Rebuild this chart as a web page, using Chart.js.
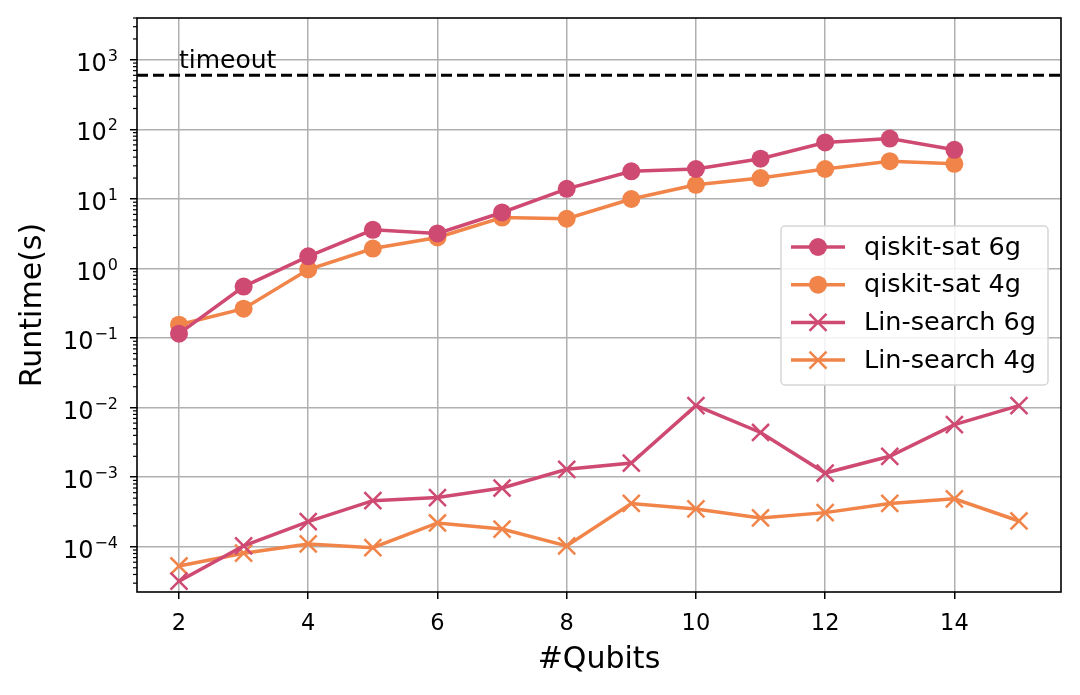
<!DOCTYPE html>
<html>
<head>
<meta charset="utf-8">
<script src="https://cdn.jsdelivr.net/npm/chart.js@4.4.1/dist/chart.umd.min.js"></script>
<style>
  html, body { margin: 0; padding: 0; background: #fff; }
  #wrap { width: 1080px; height: 695px; position: relative; }
</style>
</head>
<body>
<div id="wrap"><canvas id="chart"></canvas></div>
<script>
const qubits = [2, 3, 4, 5, 6, 7, 8, 9, 10, 11, 12, 13, 14, 15];

const qiskitSat6g = [0.116, 0.55, 1.5, 3.6, 3.2, 6.4, 14, 25, 27, 38, 65, 74, 51];
const qiskitSat4g = [0.156, 0.265, 0.97, 1.94, 2.8, 5.4, 5.2, 10, 16, 20, 27, 35, 32];
const linSearch6g = [3.2e-5, 1.03e-4, 2.3e-4, 4.6e-4, 5.1e-4, 7e-4, 1.3e-3, 1.6e-3, 0.0107, 0.0044, 1.15e-3, 2.0e-3, 5.7e-3, 0.0107];
const linSearch4g = [5.3e-5, 8.1e-5, 1.1e-4, 9.7e-5, 2.2e-4, 1.8e-4, 1.03e-4, 4.2e-4, 3.5e-4, 2.6e-4, 3.1e-4, 4.2e-4, 4.9e-4, 2.35e-4];

const timeoutValue = 600;
const xTicks = [2, 4, 6, 8, 10, 12, 14];
const yTicks = [1e-4, 1e-3, 1e-2, 1e-1, 1, 10, 100, 1000];

const PINK = "#cf4a72";
const ORANGE = "#f08449";
const FONT = "'DejaVu Sans', sans-serif";

const pts = (ys) => ys.map((y, i) => ({ x: qubits[i], y }));

const extras = {
  id: "extras",
  beforeDatasetsDraw(chart) {
    const { ctx, chartArea: a, scales } = chart;
    const y = scales.y.getPixelForValue(timeoutValue);
    ctx.save();
    ctx.strokeStyle = "#000";
    ctx.lineWidth = 3;
    ctx.setLineDash([11, 5]);
    ctx.beginPath();
    ctx.moveTo(a.left, y);
    ctx.lineTo(a.right, y);
    ctx.stroke();
    ctx.setLineDash([]);
    ctx.fillStyle = "#000";
    ctx.font = "25px " + FONT;
    ctx.textBaseline = "alphabetic";
    ctx.fillText("timeout", scales.x.getPixelForValue(2), y - 7);
    ctx.restore();
  },
  afterDraw(chart) {
    const { ctx, chartArea: a, scales } = chart;
    ctx.save();
    // minor ticks on the log axis
    ctx.strokeStyle = "#000";
    ctx.lineWidth = 1.2;
    for (let e = -5; e <= 3; e++) {
      for (let m = 2; m <= 9; m++) {
        const v = m * Math.pow(10, e);
        if (v < scales.y.min || v > scales.y.max) continue;
        const py = scales.y.getPixelForValue(v);
        ctx.beginPath();
        ctx.moveTo(a.left - 4, py);
        ctx.lineTo(a.left, py);
        ctx.stroke();
      }
    }
    // spines
    ctx.lineWidth = 1.6;
    ctx.strokeRect(a.left, a.top, a.right - a.left, a.bottom - a.top);

    // y tick labels: 10 with raised exponent
    ctx.fillStyle = "#000";
    ctx.textAlign = "right";
    ctx.textBaseline = "alphabetic";
    yTicks.forEach((v) => {
      const py = scales.y.getPixelForValue(v);
      const exp = String(Math.round(Math.log10(v))).replace("-", "\u2212");
      ctx.font = "16px " + FONT;
      const ew = ctx.measureText(exp).width;
      ctx.fillText(exp, a.left - 19, py + 1);
      ctx.font = "24px " + FONT;
      ctx.fillText("10", a.left - 19 - ew - 1, py + 11);
    });

    // x tick labels
    ctx.textAlign = "center";
    ctx.font = "22.5px " + FONT;
    xTicks.forEach((v) => {
      ctx.fillText(String(v), scales.x.getPixelForValue(v), a.bottom + 38);
    });

    // axis titles
    ctx.textBaseline = "middle";
    ctx.font = "30px " + FONT;
    ctx.fillText("#Qubits", (a.left + a.right) / 2, 660);
    ctx.translate(33, (a.top + a.bottom) / 2);
    ctx.rotate(-Math.PI / 2);
    ctx.fillText("Runtime(s)", 0, 0);
    ctx.restore();

    // legend inside the plot
    const lx = 781, ly = 226, lw = 267, lh = 159;
    ctx.save();
    ctx.fillStyle = "rgba(255,255,255,0.85)";
    ctx.strokeStyle = "#d6d6d6";
    ctx.lineWidth = 1.5;
    ctx.beginPath();
    ctx.roundRect(lx, ly, lw, lh, 4);
    ctx.fill();
    ctx.stroke();
    ctx.font = "25.5px " + FONT;
    ctx.textBaseline = "middle";
    chart.data.datasets.forEach((ds, i) => {
      const cy = ly + 21 + i * 37.7;
      ctx.strokeStyle = ds.borderColor;
      ctx.lineWidth = 3.5;
      ctx.beginPath();
      ctx.moveTo(791, cy);
      ctx.lineTo(845, cy);
      ctx.stroke();
      if (ds.pointStyle === "circle") {
        ctx.fillStyle = ds.borderColor;
        ctx.beginPath();
        ctx.arc(818, cy, 9, 0, Math.PI * 2);
        ctx.fill();
      } else {
        ctx.lineWidth = 2.5;
        const r = 8.5;
        ctx.beginPath();
        ctx.moveTo(818 - r, cy - r); ctx.lineTo(818 + r, cy + r);
        ctx.moveTo(818 - r, cy + r); ctx.lineTo(818 + r, cy - r);
        ctx.stroke();
      }
      ctx.fillStyle = "#000";
      ctx.fillText(ds.label, 864, cy + 1);
    });
    ctx.restore();
  },
};

const lineSet = (label, ys, color, style) => ({
  label,
  data: pts(ys),
  borderColor: color,
  backgroundColor: color,
  borderWidth: 3.5,
  pointStyle: style,
  pointRadius: style === "circle" ? 9 : 12,
  pointBorderWidth: style === "circle" ? 0 : 2.5,
  pointBorderColor: color,
  pointBackgroundColor: color,
  tension: 0,
});

new Chart(document.getElementById("chart"), {
  type: "line",
  data: {
    datasets: [
      lineSet("qiskit-sat 6g", qiskitSat6g, PINK, "circle"),
      lineSet("qiskit-sat 4g", qiskitSat4g, ORANGE, "circle"),
      lineSet("Lin-search 6g", linSearch6g, PINK, "crossRot"),
      lineSet("Lin-search 4g", linSearch4g, ORANGE, "crossRot"),
    ],
  },
  plugins: [extras],
  options: {
    responsive: true,
    maintainAspectRatio: false,
    animation: false,
    devicePixelRatio: 1,
    layout: { padding: { top: 18, right: 19, left: 0, bottom: 0 } },
    plugins: { legend: { display: false }, tooltip: { enabled: false } },
    scales: {
      x: {
        type: "linear",
        min: 1.35,
        max: 15.65,
        afterBuildTicks: (s) => { s.ticks = xTicks.map((v) => ({ value: v })); },
        afterFit: (s) => { s.height = 103; },
        grid: { color: "#b0b0b0", lineWidth: 1.5, tickColor: "#000", tickLength: 7, drawTicks: true },
        border: { display: false },
        ticks: { display: false },
      },
      y: {
        type: "logarithmic",
        min: 2.24e-5,
        max: 4000,
        afterBuildTicks: (s) => { s.ticks = yTicks.map((v) => ({ value: v })); },
        afterFit: (s) => { s.width = 137; },
        grid: { color: "#b0b0b0", lineWidth: 1.5, tickColor: "#000", tickLength: 7, drawTicks: true },
        border: { display: false },
        ticks: { display: false },
      },
    },
  },
});
</script>
</body>
</html>
